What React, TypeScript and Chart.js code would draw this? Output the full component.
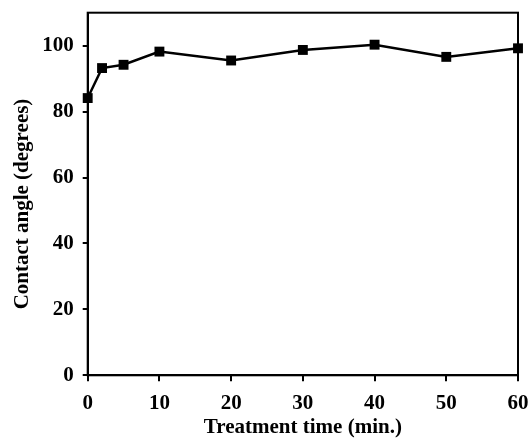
import React, { useEffect, useRef } from "react";
import { Chart, registerables } from "chart.js";

Chart.register(...registerables);

const times = [0, 2, 5, 10, 20, 30, 40, 50, 60];
const contactAngle = [84.1, 93.2, 94.2, 98.2, 95.5, 98.7, 100.3, 96.6, 99.2];
const xTicks = [0, 10, 20, 30, 40, 50, 60];
const yTicks = [0, 20, 40, 60, 80, 100];
const xTitle = "Treatment time (min.)";
const yTitle = "Contact angle (degrees)";

const FONT = "'Liberation Serif', 'Times New Roman', serif";

const framePlugin = {
  id: "frame",
  afterDatasetsDraw(chart: any) {
    const { ctx, chartArea } = chart;
    ctx.save();
    ctx.strokeStyle = "#000";
    ctx.lineWidth = 2;
    ctx.strokeRect(chartArea.left, chartArea.top, chartArea.right - chartArea.left, chartArea.bottom - chartArea.top);
    ctx.restore();
  },
};

const yTitlePlugin = {
  id: "yTitle",
  afterDraw(chart: any) {
    const { ctx, chartArea } = chart;
    ctx.save();
    ctx.translate(23, (chartArea.top + chartArea.bottom) / 2 + 10);
    ctx.rotate(-Math.PI / 2);
    ctx.font = `bold 21px ${FONT}`;
    ctx.fillStyle = "#000";
    ctx.textAlign = "center";
    ctx.textBaseline = "middle";
    ctx.fillText(yTitle, 0, 0);
    ctx.restore();
  },
};

export default function App() {
  const ref = useRef<HTMLCanvasElement>(null);
  useEffect(() => {
    if (!ref.current) return;
    const chart = new Chart(ref.current, {
      type: "line",
      data: {
        datasets: [
          {
            data: times.map((t, i) => ({ x: t, y: contactAngle[i] })),
            borderColor: "#000",
            backgroundColor: "#000",
            borderWidth: 2.5,
            pointStyle: "rect",
            pointRadius: 7,
            pointBackgroundColor: "#000",
            pointBorderWidth: 0,
            clip: false as any,
          },
        ],
      },
      options: {
        responsive: false,
        animation: false,
        layout: { padding: { left: 0, top: 12.7, right: 10, bottom: 0 } },
        plugins: { legend: { display: false }, tooltip: { enabled: false } },
        scales: {
          x: {
            type: "linear",
            min: 0,
            max: 60,
            afterBuildTicks: (s: any) => {
              s.ticks = xTicks.map((v) => ({ value: v }));
            },
            afterFit: (s: any) => {
              s.height = 64.7;
              s.paddingLeft = 0;
              s.paddingRight = 0;
            },
            grid: { display: true, drawOnChartArea: false, drawTicks: true, tickLength: 6, color: "#000", lineWidth: 2 },
            border: { display: true, color: "#000", width: 2 },
            ticks: { color: "#000", padding: 10, maxRotation: 0, font: { family: FONT, size: 21, weight: "bold" } },
            title: {
              display: true,
              text: xTitle,
              color: "#000",
              padding: { top: 0, bottom: 0 },
              font: { family: FONT, size: 21, weight: "bold" },
            },
          },
          y: {
            type: "linear",
            min: 0,
            max: 110,
            afterBuildTicks: (s: any) => {
              s.ticks = yTicks.map((v) => ({ value: v }));
            },
            afterFit: (s: any) => {
              s.width = 87.7;
              s.paddingTop = 0;
              s.paddingBottom = 0;
            },
            grid: { display: true, drawOnChartArea: false, drawTicks: true, tickLength: 5, color: "#000", lineWidth: 2 },
            border: { display: true, color: "#000", width: 2 },
            ticks: { color: "#000", padding: 9, font: { family: FONT, size: 21, weight: "bold" } },
            title: { display: false },
          },
        },
      },
      plugins: [framePlugin, yTitlePlugin],
    });
    return () => chart.destroy();
  }, []);
  return (
    <div style={{ position: "absolute", left: 0, top: 0, width: 528, height: 440, background: "#fff" }}>
      <canvas ref={ref} width={528} height={440} />
    </div>
  );
}
